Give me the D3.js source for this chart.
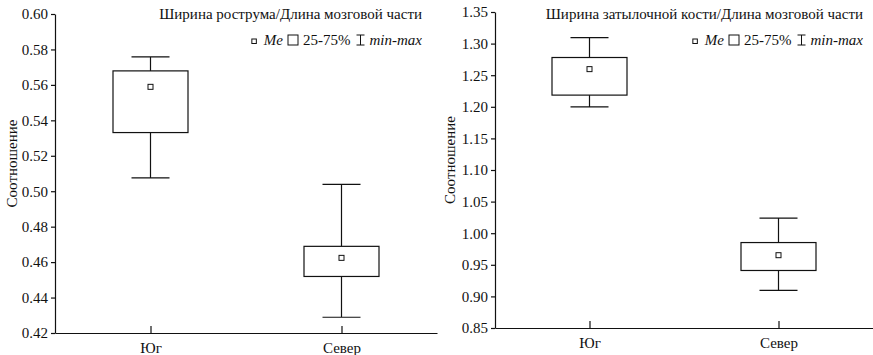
<!DOCTYPE html>
<html lang="ru">
<head>
  <meta charset="UTF-8" />
  <title>Соотношение</title>
  <style>
    body {
      margin: 0;
      background: white;
    }
    svg, svg text {
      font-family: "Liberation Serif", "DejaVu Serif", "Times New Roman", serif;
    }
    svg text {
      fill: #111;
    }
    .axis path, .axis line {
      stroke: #111;
      stroke-width: 1.2;
    }
    .axis text {
      font-size: 15px;
    }
  </style>
</head>
<body>
  <svg width="873" height="355"></svg>

  <script src="https://d3js.org/d3.v7.min.js"></script>
  <script>
    const categories = ["Юг", "Север"];

    // Ширина рострума / Длина мозговой части
    const rostrumMin = [0.5075, 0.4289];
    const rostrumQ1  = [0.5331, 0.4519];
    const rostrumMed = [0.5589, 0.4624];
    const rostrumQ3  = [0.5679, 0.4689];
    const rostrumMax = [0.5758, 0.5039];
    const rostrumTicks = [0.42, 0.44, 0.46, 0.48, 0.50, 0.52, 0.54, 0.56, 0.58, 0.60];

    // Ширина затылочной кости / Длина мозговой части
    const occipMin = [1.200, 0.9095];
    const occipQ1  = [1.2185, 0.941];
    const occipMed = [1.2596, 0.9652];
    const occipQ3  = [1.278, 0.9852];
    const occipMax = [1.3095, 1.0237];
    const occipTicks = [0.85, 0.90, 0.95, 1.00, 1.05, 1.10, 1.15, 1.20, 1.25, 1.30, 1.35];

    const panels = [
      {
        title: "Ширина рострума/Длина мозговой части",
        min: rostrumMin, q1: rostrumQ1, med: rostrumMed, q3: rostrumQ3, max: rostrumMax,
        ticks: rostrumTicks,
        x0: 55, x1: 437, yTop: 14, yBot: 333, labelX: 17, textRight: 422
      },
      {
        title: "Ширина затылочной кости/Длина мозговой части",
        min: occipMin, q1: occipQ1, med: occipMed, q3: occipQ3, max: occipMax,
        ticks: occipTicks,
        x0: 495, x1: 873, yTop: 12, yBot: 328, labelX: 455, textRight: 863
      }
    ];

    const svg = d3.select("svg");
    const boxW = 75;
    const capW = 38;

    function drawLegend(g, rightX, y) {
      const lg = g.append("g");
      let cx = 0;
      // median marker
      lg.append("rect")
        .attr("x", cx).attr("y", y - 6).attr("width", 4.5).attr("height", 4.5)
        .attr("fill", "white").attr("stroke", "#111").attr("stroke-width", 1);
      cx += 12;
      const t1 = lg.append("text").attr("x", cx).attr("y", y)
        .style("font-size", "15px").style("font-style", "italic").text("Me");
      cx += t1.node().getComputedTextLength() + 5;
      lg.append("rect")
        .attr("x", cx).attr("y", y - 10).attr("width", 10).attr("height", 10)
        .attr("fill", "white").attr("stroke", "#111").attr("stroke-width", 1);
      cx += 15;
      const t2 = lg.append("text").attr("x", cx).attr("y", y)
        .style("font-size", "15px").text("25-75%");
      cx += t2.node().getComputedTextLength() + 6;
      // I-beam for min-max
      lg.append("path")
        .attr("d", `M${cx},${y - 10}H${cx + 8}M${cx + 4},${y - 10}V${y}M${cx},${y}H${cx + 8}`)
        .attr("fill", "none").attr("stroke", "#111").attr("stroke-width", 1);
      cx += 13;
      const t3 = lg.append("text").attr("x", cx).attr("y", y)
        .style("font-size", "15px").style("font-style", "italic").text("min-max");
      cx += t3.node().getComputedTextLength();
      lg.attr("transform", `translate(${rightX - cx},0)`);
    }

    panels.forEach(p => {
      const g = svg.append("g");

      const x = d3.scalePoint()
        .domain(categories)
        .range([p.x0, p.x1])
        .padding(0.5);

      const y = d3.scaleLinear()
        .domain([p.ticks[0], p.ticks[p.ticks.length - 1]])
        .range([p.yBot, p.yTop]);

      g.append("g")
        .attr("class", "axis")
        .attr("transform", `translate(${p.x0},0)`)
        .call(d3.axisLeft(y).tickValues(p.ticks).tickFormat(d3.format(".2f"))
          .tickSizeInner(4).tickSizeOuter(0).tickPadding(3))
        .attr("font-family", null);

      g.append("g")
        .attr("class", "axis")
        .attr("transform", `translate(0,${p.yBot})`)
        .call(d3.axisBottom(x).tickSizeInner(-7).tickSizeOuter(0).tickPadding(9))
        .attr("font-family", null);

      g.append("text")
        .attr("transform", `translate(${p.labelX},${(p.yTop + p.yBot) / 2 - 10}) rotate(-90)`)
        .attr("text-anchor", "middle")
        .style("font-size", "15px")
        .text("Соотношение");

      const idx = d3.range(categories.length);

      // whiskers
      g.selectAll(".whisker")
        .data(idx)
        .join("path")
          .attr("fill", "none")
          .attr("stroke", "#111")
          .attr("stroke-width", 1.2)
          .attr("d", i => {
            const cx = x(categories[i]);
            return `M${cx},${y(p.max[i])}V${y(p.q3[i])}` +
                   `M${cx},${y(p.q1[i])}V${y(p.min[i])}` +
                   `M${cx - capW / 2},${y(p.max[i])}H${cx + capW / 2}` +
                   `M${cx - capW / 2},${y(p.min[i])}H${cx + capW / 2}`;
          });

      // boxes
      g.selectAll(".box")
        .data(idx)
        .join("rect")
          .attr("x", i => x(categories[i]) - boxW / 2)
          .attr("y", i => y(p.q3[i]))
          .attr("width", boxW)
          .attr("height", i => y(p.q1[i]) - y(p.q3[i]))
          .attr("fill", "white")
          .attr("stroke", "#111")
          .attr("stroke-width", 1.2);

      // medians
      g.selectAll(".med")
        .data(idx)
        .join("rect")
          .attr("x", i => x(categories[i]) - 2.5)
          .attr("y", i => y(p.med[i]) - 2.5)
          .attr("width", 5)
          .attr("height", 5)
          .attr("fill", "white")
          .attr("stroke", "#111")
          .attr("stroke-width", 1);

      g.append("text")
        .attr("x", p.textRight)
        .attr("y", 19)
        .attr("text-anchor", "end")
        .style("font-size", "15px")
        .text(p.title);

      drawLegend(g, p.textRight, 45);
    });
  </script>
</body>
</html>
